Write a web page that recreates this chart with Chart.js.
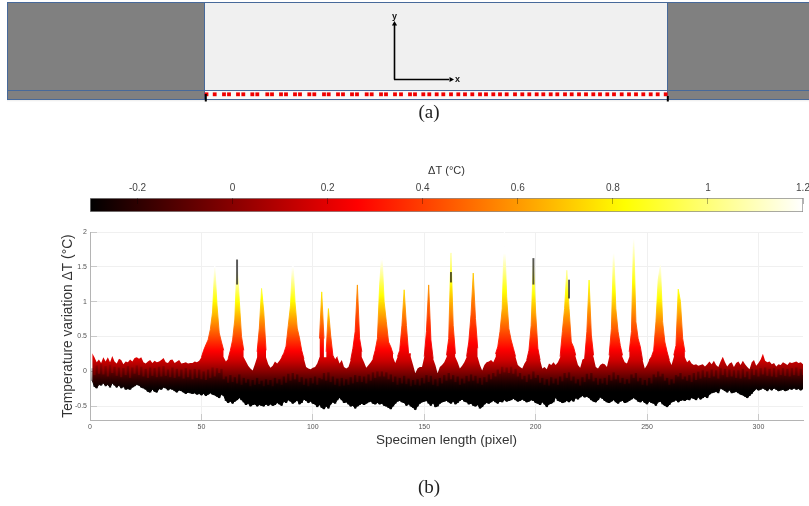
<!DOCTYPE html>
<html>
<head>
<meta charset="utf-8">
<title>Specimen temperature variation</title>
<style>
html,body{margin:0;padding:0;background:#fff;width:809px;height:506px;overflow:hidden}
canvas{position:absolute;left:0;filter:blur(0.4px)}
#panel{top:0}
#bar{top:160px}
#main{top:222px}
</style>
<script src="https://cdn.jsdelivr.net/npm/chart.js@4/dist/chart.umd.min.js"></script>
</head>
<body>
<canvas id="panel" width="809" height="130"></canvas>
<canvas id="bar" width="809" height="60"></canvas>
<canvas id="main" width="809" height="284"></canvas>
<script>
// ---- Panel (a): sensor positions along the specimen edge (pixels of the sketch)
const sensorX = [206.5,214.7,224,229,238,243.3,252.3,257.3,267.3,272,281,286,295,300,309.3,314.3,324,328.7,338,343,352,357,366.7,371.7,381,386,395,401,410,415,423.3,429.3,436.7,443.3,451,458.3,465,472.3,480,486,493.3,500,506.7,515,522.3,529.3,536.7,543.3,550.7,557.3,565,571.7,579,586,593.3,600,607.3,614,621.7,629,636,643.3,650.7,657.7,665.7];

// ---- Colour bar
const colorTicks = [-0.2,0,0.2,0.4,0.6,0.8,1,1.2];
const colorValues = [-0.3,0.2625,0.825,1.2];
const colorStops = ['#000000','#ff0000','#ffff00','#ffffff'];

// ---- Panel (b): envelope of the temperature variation surface, one value per specimen pixel (1..320)
const xTicks = [0,50,100,150,200,250,300];
const yTicks = [-0.5,0,0.5,1,1.5,2];
const upperEnvelope = [
.26,.2,.13,.17,.12,.2,.14,.2,.13,.22,
.14,.11,.18,.16,.1,.14,.13,.17,.14,.19,
.2,.18,.2,.13,.11,.14,.16,.12,.15,.13,
.14,.16,.19,.13,.12,.16,.17,.12,.14,.16,
.11,.12,.13,.11,.12,.12,.14,.13,.15,.2,
.3,.38,.45,.6,.85,1.52,.95,.55,.42,.3,
.14,.18,.3,.45,.75,1.6,1.02,.5,.3,.14,
.08,.04,.01,.1,.28,.62,1.19,.85,.3,.1,
.05,.08,.14,.11,.15,.2,.26,.36,.66,.95,
1.64,1.0,.62,.48,.3,.18,.06,.04,.03,.05,
.06,.11,.47,1.14,.47,.28,.9,.52,.23,.16,
.21,.11,.16,.06,.04,.06,.16,.33,.57,1.24,
.47,.28,.13,.05,.09,.13,.18,.3,.47,1.24,
1.72,1.0,.71,.42,.35,.25,.12,.21,.3,.66,
1.17,.66,.25,.25,.09,-.03,.04,.06,.06,.21,
.57,1.24,.45,.18,.09,-.03,.06,.09,.13,.23,
.47,1.7,.66,.25,.13,.04,.08,.13,.21,.42,
.81,1.41,.76,.33,.09,.01,.09,.13,.14,.16,
.13,.25,.35,.57,.9,2.0,1.07,.61,.45,.33,
.21,.09,.06,.04,.11,.16,.3,.66,1.62,.85,
.33,.16,.04,.06,.03,.11,.09,.13,.09,.13,
.21,.57,.9,1.45,.9,.42,.35,.23,.09,.05,
.16,.18,.57,1.31,.52,.23,.06,.04,.09,.11,
.1,.06,.23,.61,1.79,.9,.57,.37,.23,.13,
.11,.28,.57,1.98,.71,.47,.35,.16,.04,.09,
.16,.21,.3,.71,1.31,1.53,.71,.42,.28,.16,
.09,.23,.37,1.18,1.0,.47,.28,.13,.16,.11,
.09,.1,.08,.09,.1,.07,.1,.14,.1,.15,
.09,.06,.14,.21,.13,.07,.11,.13,.06,.12,
.14,.09,.15,.1,.06,.03,.13,.16,.08,.12,
.17,.25,.15,.13,.14,.1,.12,.07,.1,.09,
.13,.11,.09,.13,.12,.13,.14,.12,.13,.1];
const lowerEnvelope = [
-.13,-.22,-.24,-.19,-.2,-.17,-.21,-.19,-.23,-.17,
-.2,-.23,-.2,-.24,-.22,-.26,-.25,-.26,-.23,-.21,
-.19,-.2,-.23,-.24,-.26,-.29,-.3,-.26,-.29,-.3,
-.25,-.26,-.23,-.24,-.27,-.25,-.26,-.28,-.3,-.27,
-.28,-.3,-.32,-.3,-.31,-.32,-.31,-.33,-.32,-.34,
-.32,-.35,-.33,-.31,-.33,-.34,-.36,-.38,-.33,-.35,
-.42,-.45,-.43,-.46,-.43,-.41,-.38,-.41,-.44,-.48,
-.46,-.5,-.48,-.47,-.5,-.48,-.49,-.5,-.47,-.49,
-.47,-.49,-.48,-.45,-.47,-.49,-.43,-.45,-.41,-.43,
-.46,-.44,-.41,-.47,-.45,-.4,-.42,-.45,-.43,-.46,
-.47,-.51,-.48,-.52,-.54,-.5,-.53,-.47,-.44,-.46,
-.41,-.38,-.41,-.45,-.44,-.47,-.5,-.49,-.53,-.5,
-.48,-.46,-.48,-.46,-.44,-.43,-.46,-.47,-.45,-.47,
-.46,-.49,-.5,-.52,-.54,-.5,-.46,-.43,-.42,-.44,
-.45,-.49,-.47,-.5,-.52,-.55,-.5,-.46,-.44,-.43,
-.42,-.46,-.49,-.45,-.51,-.5,-.46,-.44,-.43,-.42,
-.44,-.46,-.43,-.47,-.45,-.42,-.4,-.43,-.44,-.47,
-.46,-.49,-.5,-.48,-.53,-.51,-.47,-.45,-.46,-.44,
-.42,-.44,-.46,-.43,-.44,-.41,-.43,-.42,-.41,-.39,
-.41,-.43,-.42,-.4,-.42,-.44,-.43,-.41,-.42,-.45,
-.46,-.48,-.44,-.47,-.51,-.47,-.46,-.44,-.37,-.42,
-.43,-.45,-.44,-.42,-.44,-.41,-.43,-.38,-.4,-.37,
-.35,-.37,-.36,-.38,-.41,-.43,-.44,-.41,-.37,-.39,
-.42,-.44,-.45,-.43,-.41,-.44,-.46,-.43,-.42,-.45,
-.44,-.42,-.4,-.38,-.4,-.43,-.44,-.42,-.45,-.47,
-.43,-.45,-.46,-.49,-.44,-.43,-.47,-.49,-.51,-.48,
-.44,-.43,-.41,-.44,-.42,-.41,-.42,-.4,-.41,-.38,
-.39,-.41,-.37,-.4,-.38,-.36,-.38,-.33,-.31,-.3,
-.29,-.31,-.24,-.26,-.28,-.3,-.27,-.31,-.3,-.29,
-.31,-.33,-.34,-.36,-.38,-.35,-.32,-.28,-.25,-.27,
-.26,-.24,-.26,-.28,-.25,-.27,-.24,-.26,-.28,-.27,
-.26,-.28,-.27,-.25,-.26,-.24,-.26,-.25,-.27,-.25];
// top of the darker frames inside the surface
const darkFrameTop = [
.04,-.06,.08,-.04,.1,-.05,.07,-.08,.09,-.03,
.06,-.07,.05,-.09,.04,-.06,.07,-.1,.05,-.04,
.08,-.06,.06,-.08,.03,-.1,.05,-.07,.04,-.09,
.06,-.08,.07,-.07,.02,-.09,.05,-.1,.03,-.08,
.02,-.11,.04,-.09,.02,-.12,.03,-.1,.02,-.12,
.0,-.13,.02,-.1,.05,-.08,.04,-.03,.03,-.12,
-.08,-.17,-.06,-.16,-.09,-.18,-.05,-.2,-.1,-.17,
-.12,-.22,-.13,-.2,-.1,-.19,-.14,-.22,-.12,-.2,
-.13,-.22,-.1,-.18,-.12,-.2,-.08,-.17,-.04,-.14,
-.03,-.12,-.05,-.16,-.09,-.2,-.11,-.22,-.1,-.18,
-.08,-.2,-.1,-.12,-.03,-.14,-.02,-.16,-.08,-.2,
-.11,-.22,-.1,-.21,-.12,-.2,-.09,-.18,-.06,-.16,
-.07,-.16,-.08,-.18,-.05,-.14,-.02,-.1,.0,-.08,
.0,-.08,-.02,-.12,-.05,-.16,-.08,-.2,-.1,-.18,
-.07,-.19,-.11,-.22,-.13,-.2,-.12,-.21,-.1,-.18,
-.06,-.16,-.07,-.2,-.12,-.22,-.1,-.18,-.06,-.14,
-.03,-.12,-.06,-.16,-.08,-.2,-.11,-.18,-.07,-.15,
-.05,-.14,-.07,-.18,-.1,-.2,-.09,-.16,-.05,-.12,
-.03,-.08,.02,-.04,.06,-.02,.05,-.03,.06,-.04,
.03,-.08,-.03,-.12,-.07,-.16,-.05,-.12,.0,-.1,
-.06,-.17,-.1,-.2,-.12,-.21,-.09,-.18,-.11,-.2,
-.08,-.15,-.03,-.1,-.02,-.14,-.08,-.18,-.12,-.21,
-.09,-.16,-.04,-.12,-.03,-.15,-.1,-.2,-.11,-.18,
-.1,-.2,-.06,-.14,-.02,-.12,-.06,-.17,-.1,-.19,
-.12,-.18,-.05,-.1,-.03,-.15,-.1,-.2,-.13,-.21,
-.1,-.18,-.05,-.09,.0,-.08,-.04,-.14,-.1,-.2,
-.12,-.18,-.06,-.08,-.03,-.12,-.08,-.14,-.06,-.16,
-.03,-.13,-.01,-.11,.01,-.09,.0,-.1,.02,-.08,
.01,-.11,.04,-.06,.03,-.09,.02,-.08,.01,-.1,
.01,-.11,.03,-.09,.0,-.12,.03,-.06,.02,-.08,
.04,-.05,.05,-.07,.03,-.08,.04,-.09,.02,-.06,
.04,-.07,.03,-.08,.04,-.06,.05,-.07,.03,-.06];
// each damage peak: where it sits and how strongly its height reads in colour
const peakCenters = [56,66,77,91,104,107,120,131,141,152,162,172,186,199,214,224,235,244,256,264];
const peakHeat = [.78,.8,.75,.78,.65,.85,.42,.72,.6,.42,.6,.45,.68,.7,.7,.62,.68,.6,.75,.7];
// dark spikes
const darkTipX = [66,162,199,215];
const darkTipLow = [1.25,1.28,1.25,1.05];
const darkTipHigh = [1.6,1.42,1.62,1.31];

// ---- Helpers
const SANS = '"Liberation Sans", Arial, sans-serif';
const SERIF = '"Liberation Serif", "Times New Roman", serif';
Chart.defaults.animation = false;
Chart.defaults.responsive = false;
Chart.defaults.font.family = SANS;

function hotGradient(ctx, scale) {
  const a = scale.getPixelForValue(colorValues[0]);
  const b = scale.getPixelForValue(colorValues[colorValues.length - 1]);
  const g = ctx.createLinearGradient(a, 0, b, 0);
  const span = colorValues[colorValues.length - 1] - colorValues[0];
  colorValues.forEach((v, i) => g.addColorStop((v - colorValues[0]) / span, colorStops[i]));
  return g;
}
// vertical colour ramp: below the pivot the colour follows the value,
// above it the value scale is stretched by the peak's heat factor
const PIVOT = 0.15;
const PIVOT_COLOR = 'rgb(204,0,0)';
const rampCache = new Map();
function columnRamp(chart, heat) {
  if (rampCache.has(heat)) return rampCache.get(heat);
  const s = chart.scales.y;
  const toValue = c => c <= PIVOT ? c : PIVOT + (c - PIVOT) / heat;
  const low = colorValues[0];
  const high = toValue(colorValues[colorValues.length - 1]);
  const g = chart.ctx.createLinearGradient(0, s.getPixelForValue(low), 0, s.getPixelForValue(high));
  const at = v => (v - low) / (high - low);
  g.addColorStop(0, colorStops[0]);
  g.addColorStop(at(PIVOT), PIVOT_COLOR);
  colorValues.slice(1).forEach((c, i) => g.addColorStop(at(toValue(c)), colorStops[i + 1]));
  rampCache.set(heat, g);
  return g;
}
const noEdgePadding = s => { s.paddingLeft = 0; s.paddingRight = 0; s.paddingTop = 0; s.paddingBottom = 0; };
const pageText = {
  id: 'pageText',
  afterDraw(chart, args, opts) {
    const c = chart.ctx;
    c.save();
    c.textAlign = 'center';
    c.textBaseline = 'middle';
    (opts.items || []).forEach(t => {
      c.font = t.font;
      c.fillStyle = t.color;
      const x = t.data ? chart.scales.x.getPixelForValue(t.x) : t.x;
      const y = t.data ? chart.scales.y.getPixelForValue(t.y) : t.y;
      c.fillText(t.text, x, y);
    });
    c.restore();
  }
};
const segment = (x1, y1, x2, y2, color, width, extra) => Object.assign({
  type: 'line',
  data: [{x: x1, y: y1}, {x: x2, y: y2}],
  borderColor: color,
  borderWidth: width,
  pointRadius: 0,
  fill: false,
  tension: 0
}, extra || {});
const block = (x1, x2, y1, y2, color) => segment(x1, y1, x2, y1, 'transparent', 0, {fill: {value: y2}, backgroundColor: color});

// ---- Panel (a)
const LINE = '#47699a';
const panelSets = [
  block(7, 204, 2.5, 99, '#808080'),
  block(204, 667, 2.5, 90, '#f0f0f0'),
  block(204, 667, 90, 99, '#f9f9f9'),
  block(667, 809, 2.5, 99, '#808080'),
  segment(7, 2.5, 809, 2.5, LINE, 1),
  segment(7, 90.5, 809, 90.5, LINE, 1),
  segment(7, 99.5, 809, 99.5, LINE, 1),
  segment(7, 100.8, 809, 100.8, '#ececec', 1),
  segment(7.5, 2.5, 7.5, 99.5, LINE, 1),
  segment(204.5, 2.5, 204.5, 99.5, LINE, 1),
  segment(667.5, 2.5, 667.5, 99.5, LINE, 1),
  {type: 'scatter', label: 'Sensors', data: sensorX.map(x => ({x, y: 94.3})), pointStyle: 'rect', pointRadius: 2.7, backgroundColor: '#f00000', borderWidth: 0},
  segment(205.8, 94, 205.8, 101.5, '#000', 2),
  segment(667.8, 96, 667.8, 101.5, '#000', 2),
  segment(394.5, 79.5, 394.5, 24, '#000', 1.6),
  segment(394, 79.5, 449, 79.5, '#000', 1.6),
  {type: 'scatter', data: [{x: 394.5, y: 24}], pointStyle: 'triangle', rotation: 0, pointRadius: 3, backgroundColor: '#000', borderWidth: 0},
  {type: 'scatter', data: [{x: 451, y: 79.5}], pointStyle: 'triangle', rotation: 90, pointRadius: 3, backgroundColor: '#000', borderWidth: 0}
];
panelSets.forEach((d, i) => { d.order = panelSets.length - i; });
new Chart(document.getElementById('panel'), {
  type: 'scatter',
  data: {datasets: panelSets},
  plugins: [pageText],
  options: {
    layout: {padding: 0, autoPadding: false},
    scales: {
      x: {type: 'linear', min: 0, max: 809, display: false},
      y: {type: 'linear', min: 0, max: 130, reverse: true, display: false}
    },
    plugins: {
      legend: {display: false},
      tooltip: {enabled: false},
      pageText: {items: [
        {text: 'y', x: 394.5, y: 17, data: true, font: 'bold 9px ' + SANS, color: '#111'},
        {text: 'x', x: 457.5, y: 80, data: true, font: 'bold 9px ' + SANS, color: '#111'},
        {text: '(a)', x: 429, y: 113, font: '19px ' + SERIF, color: '#222'}
      ]}
    }
  }
});

// ---- Colour bar
new Chart(document.getElementById('bar'), {
  type: 'bar',
  data: {
    labels: ['ΔT'],
    datasets: [{
      data: [[colorValues[0], colorValues[colorValues.length - 1]]],
      backgroundColor: c => c.chart.chartArea ? hotGradient(c.chart.ctx, c.chart.scales.x) : '#800',
      borderColor: '#8c8c8c',
      borderWidth: 1,
      borderSkipped: false,
      barPercentage: 1,
      categoryPercentage: 1
    }]
  },
  options: {
    indexAxis: 'y',
    layout: {padding: {left: 90, right: 6, top: 0, bottom: 8}, autoPadding: false},
    scales: {
      y: {type: 'category', display: false},
      x: {
        type: 'linear', position: 'top', min: -0.3, max: 1.2,
        afterFit: s => { s.height = 38; noEdgePadding(s); },
        afterBuildTicks: s => { s.ticks = colorTicks.map(v => ({value: v})); },
        border: {display: false},
        grid: {drawOnChartArea: false, drawTicks: true, tickLength: -6, tickColor: 'rgba(0,0,0,0.3)', z: 2},
        ticks: {font: {size: 10}, color: '#444', padding: 10, maxRotation: 0, autoSkip: false, callback: v => String(v)},
        title: {display: true, text: 'ΔT (°C)', font: {size: 11}, color: '#333', padding: {top: 4, bottom: 0}}
      }
    },
    plugins: {legend: {display: false}, tooltip: {enabled: false}}
  }
});

// ---- Panel (b)
const pixels = upperEnvelope.map((_, i) => i + 1);
const GRID = '#f0f0f0';
const AXIS = '#b4b4b4';
const REACH = 7;
// columns of each peak: walk outwards from its centre while the surface stays above the pivot
const peakColumns = peakCenters.map((center, p) => {
  const owns = x => peakCenters.every((o, q) => Math.abs(o - x) >= Math.abs(center - x) || q === p);
  let a = center, b = center;
  while (center - a < REACH && a > 1 && upperEnvelope[a - 2] > PIVOT && owns(a - 1)) a--;
  while (b - center < REACH && b < 320 && upperEnvelope[b] > PIVOT && owns(b + 1)) b++;
  return [a, b];
});
const inPeak = x => peakColumns.some(r => x >= r[0] && x <= r[1]);
const peakSets = peakColumns.map((r, p) => ({
  type: 'line', label: 'Peak ' + peakCenters[p], order: 8, tension: 0, pointRadius: 0,
  data: pixels.filter(x => x >= r[0] && x <= r[1]).map(x => ({x, y: upperEnvelope[x - 1]})),
  borderWidth: 0.9,
  borderColor: c => c.chart.chartArea ? columnRamp(c.chart, peakHeat[p]) : '#800',
  backgroundColor: c => c.chart.chartArea ? columnRamp(c.chart, peakHeat[p]) : '#800',
  fill: {value: PIVOT}
}));
new Chart(document.getElementById('main'), {
  data: {datasets: [
    {
      type: 'line', label: 'Lower envelope', order: 10, tension: 0, pointRadius: 0,
      data: pixels.map((x, i) => ({x, y: lowerEnvelope[i]})),
      borderColor: '#000', borderWidth: 1, fill: false
    },
    {
      type: 'line', label: 'Surface', order: 9, tension: 0, pointRadius: 0,
      data: pixels.map((x, i) => ({x, y: inPeak(x) ? Math.min(upperEnvelope[i], PIVOT + 0.05) : upperEnvelope[i]})),
      borderColor: 'transparent', borderWidth: 0, fill: '-1',
      backgroundColor: c => c.chart.chartArea ? columnRamp(c.chart, 1) : '#800'
    },
    ...peakSets,
    {
      type: 'bar', label: 'Dark frames', order: 3, grouped: false,
      data: pixels.map((x, i) => ({x, y: [lowerEnvelope[i], Math.min(darkFrameTop[i], upperEnvelope[i])]})),
      barThickness: 1.7,
      backgroundColor: c => {
        if (!c.chart.chartArea) return '#000';
        const s = c.chart.scales.y;
        const g = c.chart.ctx.createLinearGradient(0, s.getPixelForValue(-0.4), 0, s.getPixelForValue(0.1));
        g.addColorStop(0, 'rgba(0,0,0,0.95)');
        g.addColorStop(0.6, 'rgba(0,0,0,0.38)');
        g.addColorStop(1, 'rgba(0,0,0,0.12)');
        return g;
      }
    },
    {
      type: 'bar', label: 'Dark tips', order: 1, grouped: false,
      data: darkTipX.map((x, i) => ({x, y: [darkTipLow[i], darkTipHigh[i]]})),
      barThickness: 1.3, backgroundColor: 'rgba(25,25,25,0.72)'
    }
  ]},
  plugins: [pageText],
  options: {
    layout: {padding: {left: 0, right: 6, top: 10, bottom: 56}, autoPadding: false},
    scales: {
      x: {
        type: 'linear', min: 0, max: 320, offset: false,
        afterFit: s => { s.height = 30; noEdgePadding(s); },
        afterBuildTicks: s => { s.ticks = xTicks.map(v => ({value: v})); },
        border: {color: AXIS, width: 1},
        grid: {color: GRID, tickColor: '#c8c8c8', tickLength: -6, offset: false},
        ticks: {font: {size: 7}, color: '#555', padding: 9, maxRotation: 0, autoSkip: false, callback: v => String(v)},
        title: {display: true, text: 'Specimen length (pixel)', font: {size: 13.5}, color: '#333', padding: {top: 0, bottom: 2}}
      },
      y: {
        type: 'linear', min: -0.7, max: 2,
        afterFit: s => { s.width = 90; noEdgePadding(s); },
        afterBuildTicks: s => { s.ticks = yTicks.map(v => ({value: v})); },
        border: {color: AXIS, width: 1},
        grid: {color: GRID, tickColor: '#c8c8c8', tickLength: -7},
        ticks: {font: {size: 7}, color: '#555', padding: 10, autoSkip: false, callback: v => String(v)},
        title: {display: true, text: 'Temperature variation ΔT (°C)', font: {size: 13.8}, color: '#333', padding: {top: 60, bottom: 0}}
      }
    },
    plugins: {
      legend: {display: false},
      tooltip: {enabled: false},
      pageText: {items: [{text: '(b)', x: 429, y: 266, font: '19px ' + SERIF, color: '#222'}]}
    }
  }
});
</script>
</body>
</html>
